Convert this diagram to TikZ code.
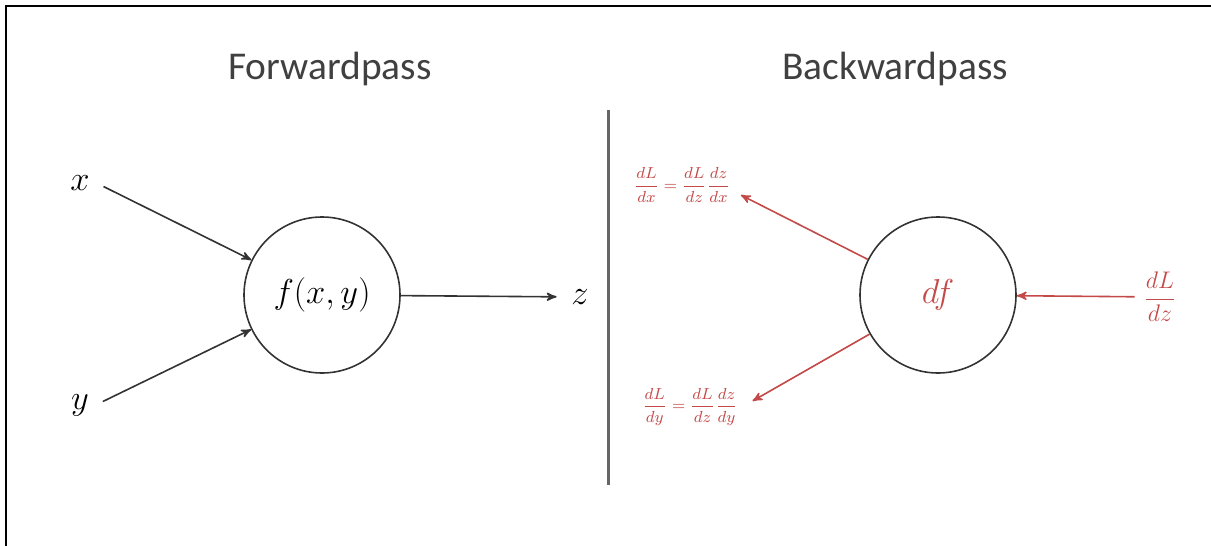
\documentclass[tikz,border=0pt]{standalone}
\usepackage{amsmath}
\usepackage{fontspec}
\setmainfont{Carlito}
\usepackage{tikz}
\usetikzlibrary{arrows}

\definecolor{gradred}{RGB}{196,74,74}
\newcommand{\gradfrac}[2]{{\nulldelimiterspace=0pt\relax\dfrac{#1}{#2}}}

\begin{document}
\begin{tikzpicture}[x=0.5pt,y=-0.5pt,->,>=stealth',thick,
    unit/.style={draw=black!80, circle, minimum size=78pt, inner sep=0pt,
      font=\fontsize{16}{18}\selectfont},
    var/.style={font=\fontsize{17}{19}\selectfont, inner sep=3pt},
    title/.style={font=\fontsize{19.7}{23}\selectfont, text=black!75},
    grad/.style={text=gradred, inner sep=2pt, font=\fontsize{8.5}{10}\selectfont}]

  \useasboundingbox (0,0) rectangle (1211,546);

  % frame and divider
  \draw[-, line width=1.2pt] (6,546) -- (6,6) -- (1211,6);
  \coordinate (divtop) at (608,110);
  \coordinate (divbot) at (608,485);
  \draw[-, black!60, line width=1.5pt] (divtop) -- (divbot);

  \node[title] (fwd) at (330,69) {Forwardpass};
  \node[title] (bwd) at (895,69) {Backwardpass};

  % forward
  \node[unit] (f) at (322,295) {$f(x,y)$};
  \node[var] (x) at (80,183) {$x$};
  \node[var] (y) at (80,405) {$y$};
  \node[var] (z) at (580,297) {$z$};

  \path[black!80]
   (x.east) edge[shorten <=4pt] (f)
   (y.east) edge[shorten <=4pt] (f)
   (f) edge[shorten >=4pt] (z);

  % backward
  \node[unit, text=gradred] (df) at (938,295) {$df$};
  \node[grad, font=\fontsize{11.5}{13}\selectfont] (dz) at (1160,297) {$\gradfrac{dL}{dz}$};
  \node[grad] (dx) at (682,185) {$\gradfrac{dL}{dx}=\gradfrac{dL}{dz}\gradfrac{dz}{dx}$};
  \node[grad] (dy) at (690,407) {$\gradfrac{dL}{dy}=\gradfrac{dL}{dz}\gradfrac{dz}{dy}$};

  \path[gradred]
   (dz) edge[shorten <=2pt] (df)
   (df) edge ([shift={(6,10)}]dx.east)
   (df) edge ([shift={(10,-6)}]dy.east);
\end{tikzpicture}
\end{document}
